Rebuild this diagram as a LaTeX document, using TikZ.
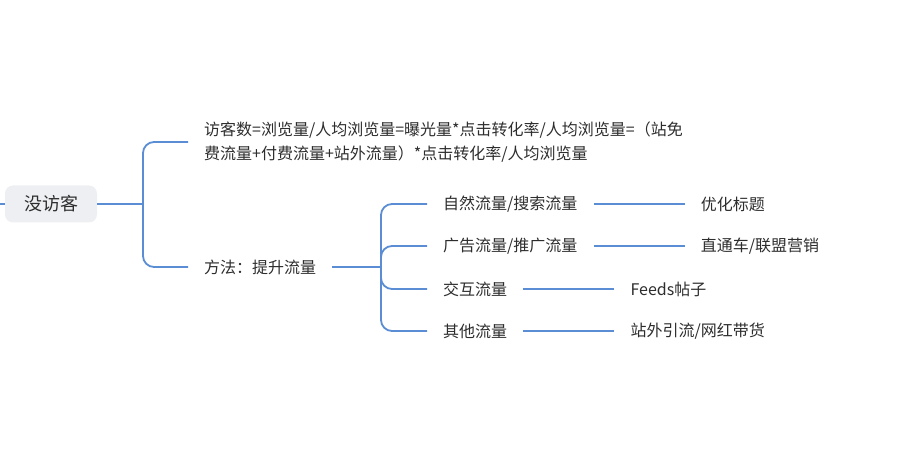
\documentclass[tikz,border=0pt]{standalone}
\usepackage{fontspec}
\setmainfont{Noto Sans CJK SC}
\usepackage{tikz}
\usetikzlibrary{positioning}
\definecolor{linkblue}{RGB}{90,141,212}
\definecolor{txtgray}{RGB}{45,45,45}
\definecolor{rootfill}{RGB}{238,239,242}

\begin{document}
\begin{tikzpicture}[x=1pt, y=-1pt, node distance=0pt and 91pt,
  topic/.style={text=txtgray, font=\fontsize{16}{24}\selectfont, inner xsep=16pt,
                inner ysep=2pt, anchor=west, align=left},
  rootbox/.style={fill=rootfill, rounded corners=8pt, minimum width=92pt,
                  minimum height=37pt, text=txtgray, font=\fontsize{18}{22}\selectfont},
  link/.style={draw=linkblue, line width=1.8pt, rounded corners=11pt}]
  \useasboundingbox (0,0) rectangle (908,454);

  % root and its two branches
  \node[rootbox] (root) at (51,204) {没访客};
  \coordinate (edge) at (0,204);
  \coordinate (j1) at (143,204);
  \node[topic] (fml) at (188,142) {访客数=浏览量/人均浏览量=曝光量*点击转化率/人均浏览量=（站免\\
                                   费流量+付费流量+站外流量）*点击转化率/人均浏览量};
  \node[topic] (way) at (188,267) {方法：提升流量};
  \draw[link] (edge) -- (root);
  \draw[link] (root) -- (j1);
  \draw[link] (j1) |- (fml.west);
  \draw[link] (j1) |- (way.west);

  % traffic sources
  \coordinate (j2) at (381,267);
  \node[topic] (nat) at (427,204) {自然流量/搜索流量};
  \node[topic] (ads) at (427,246) {广告流量/推广流量};
  \node[topic] (act) at (427,289) {交互流量};
  \node[topic] (oth) at (427,331) {其他流量};
  \node[topic, right=of nat] (nat2) {优化标题};
  \node[topic, right=of ads] (ads2) {直通车/联盟营销};
  \node[topic, right=of act] (act2) {Feeds帖子};
  \node[topic, right=of oth] (oth2) {站外引流/网红带货};
  \draw[link] (way) -- (j2);
  \foreach \n in {nat, ads, act, oth}
    \draw[link] (j2) |- (\n.west);
  \foreach \n in {nat, ads, act, oth}
    \draw[link] (\n) -- (\n2);
\end{tikzpicture}
\end{document}
